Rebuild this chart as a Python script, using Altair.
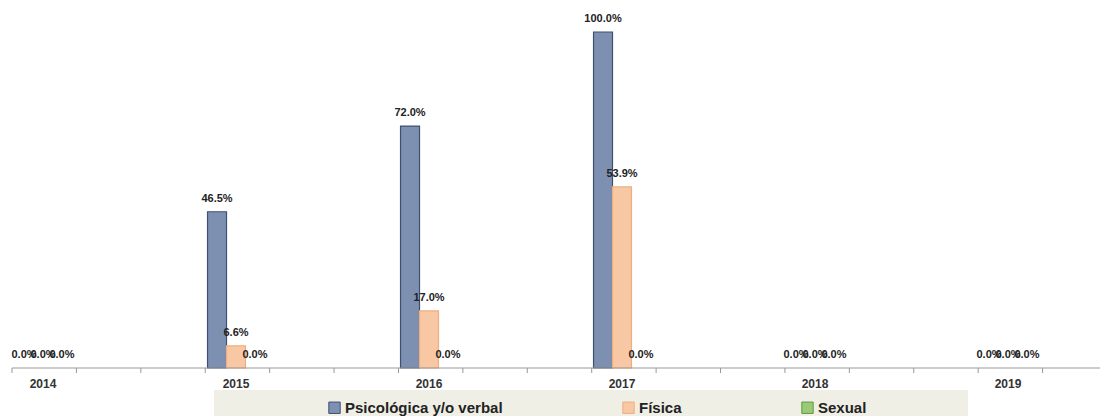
import altair as alt
import pandas as pd

years = ["2014", "2015", "2016", "2017", "2018", "2019"]
series = ["Psicológica y/o verbal", "Física", "Sexual"]
psicologica = [0.0, 46.5, 72.0, 100.0, 0.0, 0.0]
fisica = [0.0, 6.6, 17.0, 53.9, 0.0, 0.0]
sexual = [0.0, 0.0, 0.0, 0.0, 0.0, 0.0]

fills = ["#7d90b1", "#f8c7a3", "#9bc97a"]
strokes = ["#3e506f", "#efae80", "#5f9a3a"]

rows = []
for i, y in enumerate(years):
    for s, vals in zip(series, [psicologica, fisica, sexual]):
        rows.append({"year": y, "serie": s, "value": vals[i]})
df = pd.DataFrame(rows)

FONT = "Liberation Sans"
W, H = 1088, 336

xscale = alt.Scale(domain=years, range=[-65.5, 1092.5], paddingInner=0.705, paddingOuter=0.3525)
offscale = alt.Scale(domain=series, paddingInner=0, paddingOuter=0)

base = alt.Chart(df)

bars = base.mark_bar().encode(
    x=alt.X("year:N", scale=xscale,
            axis=alt.Axis(title=None, domain=False, ticks=False, labelAngle=0,
                          labelFont=FONT, labelFontWeight="bold", labelFontSize=12,
                          labelColor="#333", labelPadding=10)),
    xOffset=alt.XOffset("serie:N", scale=offscale),
    y=alt.Y("value:Q", scale=alt.Scale(domain=[0, 100]), axis=None),
    color=alt.Color("serie:N", scale=alt.Scale(domain=series, range=fills),
                    legend=alt.Legend(orient="none", legendX=315, legendY=368,
                                      direction="horizontal", title=None,
                                      labelFont=FONT, labelFontWeight="bold",
                                      labelFontSize=15, labelColor="#222",
                                      labelLimit=400, symbolType="square",
                                      symbolSize=130, symbolStrokeWidth=1,
                                      columnPadding=117, labelOffset=3, padding=0)),
    stroke=alt.Stroke("serie:N", scale=alt.Scale(domain=series, range=strokes), legend=None),
    strokeWidth=alt.condition(alt.datum.value > 0, alt.value(1.2), alt.value(0)),
)

labels = base.transform_calculate(
    lab="format(datum.value, '.1f') + '%'"
).mark_text(font=FONT, fontWeight="bold", fontSize=11, color="#222",
            baseline="alphabetic", dy=-10).encode(
    x=alt.X("year:N", scale=xscale, axis=None),
    xOffset=alt.XOffset("serie:N", scale=offscale),
    y=alt.Y("value:Q", scale=alt.Scale(domain=[0, 100]), axis=None),
    text="lab:N",
)

legend_bg = alt.Chart(alt.Data(values=[{}])).mark_rect(color="#f0efe6").encode(
    x=alt.value(202), x2=alt.value(956), y=alt.value(358), y2=alt.value(400)
)

axis_line = alt.Chart(alt.Data(values=[{}])).mark_rule(color="#9a9a9a", strokeWidth=1).encode(
    x=alt.value(0), x2=alt.value(1095), y=alt.value(336)
)

ticks = alt.Chart(alt.sequence(0, 18, as_="t")).mark_rule(color="#9a9a9a", strokeWidth=1).encode(
    x=alt.X("t:Q", scale=alt.Scale(domain=[0, 17], range=[0, 1095]), axis=None),
    y=alt.value(336), y2=alt.value(341),
)

chart = alt.layer(legend_bg, bars, labels, axis_line, ticks).resolve_scale(
    x="independent"
).properties(
    width=W, height=H,
    autosize=alt.AutoSizeParams(type="none"),
    padding={"left": 4, "top": 24, "right": 0, "bottom": 48},
).configure_view(stroke=None)

chart.save("out.html", embed_options={"renderer": "svg", "actions": False})
